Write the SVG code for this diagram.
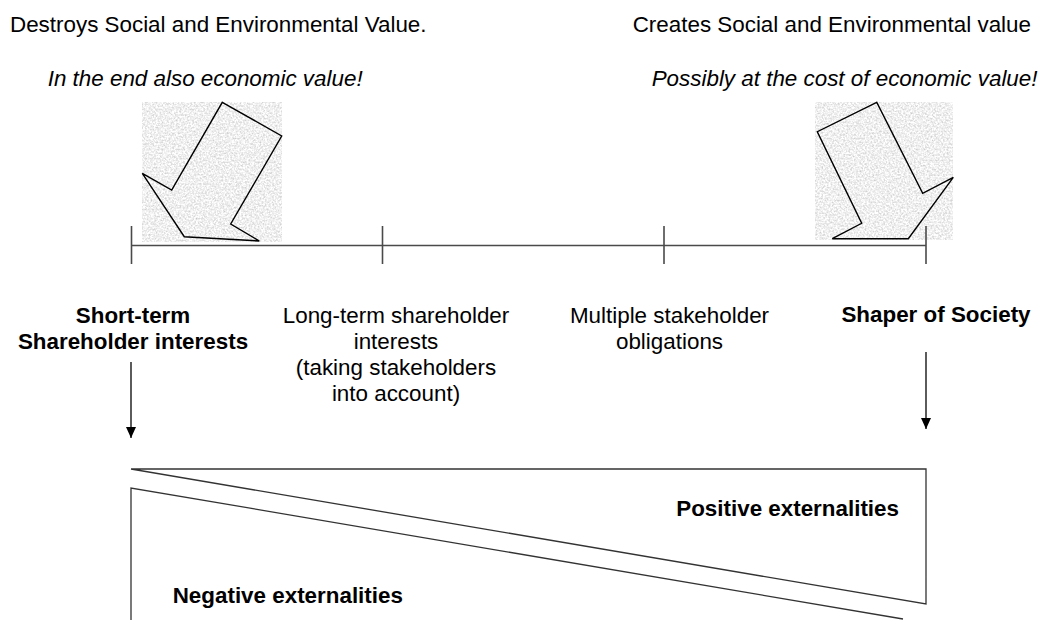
<svg xmlns="http://www.w3.org/2000/svg" width="1041" height="620" viewBox="0 0 1041 620">
  <style>
    text { font-family: "Liberation Sans", Arial, sans-serif; font-size: 22.4px; fill: #000; }
    .it { font-style: italic; }
    .b { font-weight: bold; }
    .mid { text-anchor: middle; }
    .axis { stroke: #4a4a4a; stroke-width: 1.6; fill: none; }
    .shape { stroke: #000; stroke-width: 1.4; fill: none; stroke-linejoin: miter; }
    .box { stroke: #333; stroke-width: 1.3; fill: none; }
    .conn { stroke: #333; stroke-width: 1.6; fill: none; }
  </style>
  <defs>
    <!-- speckled light grey stone texture behind the two block arrows -->
    <filter id="grain" x="0" y="0" width="100%" height="100%" color-interpolation-filters="sRGB">
      <feTurbulence type="fractalNoise" baseFrequency="0.55" numOctaves="3" seed="7"/>
      <feColorMatrix type="matrix" values="0.36 0 0 0 0.76  0.36 0 0 0 0.76  0.36 0 0 0 0.76  0 0 0 0 1"/>
      <feGaussianBlur stdDeviation="0.35"/>
    </filter>
    <marker id="head" viewBox="0 0 10 11" refX="5" refY="11" markerWidth="10" markerHeight="11" markerUnits="userSpaceOnUse" orient="0">
      <path d="M0,0 L10,0 L5,11 z" fill="#000"/>
    </marker>
  </defs>

  <!-- headings -->
  <g id="heading-left">
    <text x="10" y="31.7">Destroys Social and Environmental Value.</text>
    <text class="it" x="47.7" y="86">In the end also economic value!</text>
  </g>
  <g id="heading-right">
    <text x="632.7" y="31.7">Creates Social and Environmental value</text>
    <text class="it" x="651.7" y="86">Possibly at the cost of economic value!</text>
  </g>

  <!-- block arrows on textured tiles -->
  <g id="arrow-left">
    <rect x="142" y="102" width="140" height="140" filter="url(#grain)"/>
    <polygon class="shape" points="222.3,102.3 281.7,136 230.7,224 259.3,241 184.3,236.7 142.3,173.3 171.7,190"/>
  </g>
  <g id="arrow-right">
    <rect x="815" y="102" width="138" height="138" filter="url(#grain)"/>
    <polygon class="shape" points="876.7,102.3 817.3,131.7 861.7,223.3 832.3,238.7 908.3,238.7 953.3,177.3 922.7,193.3"/>
  </g>

  <!-- scale line with four positions -->
  <g id="scale">
    <line class="axis" x1="131.5" y1="245.5" x2="926" y2="245.5"/>
    <line class="axis" x1="131.5" y1="226" x2="131.5" y2="264"/>
    <line class="axis" x1="382.5" y1="226" x2="382.5" y2="264"/>
    <line class="axis" x1="664" y1="226" x2="664" y2="264"/>
    <line class="axis" x1="926" y1="226" x2="926" y2="264"/>
  </g>

  <!-- position labels -->
  <g id="label-short-term">
    <text class="b mid" x="133" y="323.3">Short-term</text>
    <text class="b mid" x="133" y="349.3">Shareholder interests</text>
  </g>
  <g id="label-long-term">
    <text class="mid" x="396" y="323.3">Long-term shareholder</text>
    <text class="mid" x="396" y="349.3">interests</text>
    <text class="mid" x="396" y="375">(taking stakeholders</text>
    <text class="mid" x="396" y="400.7">into account)</text>
  </g>
  <g id="label-multiple">
    <text class="mid" x="669.5" y="322.5">Multiple stakeholder</text>
    <text class="mid" x="669.5" y="348.5">obligations</text>
  </g>
  <g id="label-shaper">
    <text class="b mid" x="936" y="322">Shaper of Society</text>
  </g>

  <!-- connectors -->
  <g id="connectors">
    <line class="conn" x1="131" y1="362" x2="131" y2="438" marker-end="url(#head)"/>
    <line class="conn" x1="926" y1="352" x2="926" y2="429" marker-end="url(#head)"/>
  </g>

  <!-- externalities split -->
  <g id="positive-externalities">
    <path class="box" d="M131,469 L926,469 L926,604 Z"/>
    <text class="b" x="899" y="516" text-anchor="end">Positive externalities</text>
  </g>
  <g id="negative-externalities">
    <path class="box" d="M131,620 L131,488 L903,619"/>
    <text class="b" x="172.7" y="602.7">Negative externalities</text>
  </g>
</svg>
